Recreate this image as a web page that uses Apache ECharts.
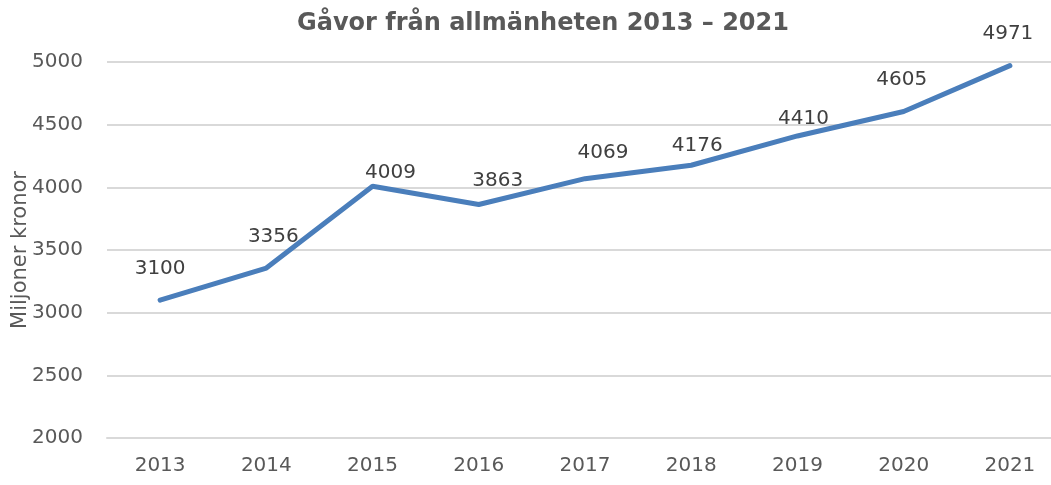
<!DOCTYPE html>
<html>
<head>
<meta charset="utf-8">
<script src="https://cdn.jsdelivr.net/npm/echarts@6/dist/echarts.min.js"></script>
<style>
  html, body { margin: 0; padding: 0; background: #fff; }
  #chart { width: 1051px; height: 485px; }
</style>
</head>
<body>
<div id="chart"></div>
<script>
const years = ['2013', '2014', '2015', '2016', '2017', '2018', '2019', '2020', '2021']
const gifts = [3100, 3356, 4009, 3863, 4069, 4176, 4410, 4605, 4971]

// where each value label sits relative to its point (moved by hand in the original)
const labelShift = [[0, -31], [7, -31], [18, -13], [19, -24], [18, -26], [6, -19], [6, -17], [-2, -32], [-2, -32]]

const chart = echarts.init(document.getElementById('chart'))
chart.setOption({
  animation: false,
  textStyle: { fontFamily: 'DejaVu Sans' },
  title: {
    text: 'Gåvor från allmänheten 2013 – 2021',
    left: 292,
    top: 7,
    textStyle: { fontSize: 24, fontWeight: 'bold', color: '#595959', fontFamily: 'DejaVu Sans' }
  },
  grid: { left: 107, top: 62, width: 956, height: 376, containLabel: false, outerBoundsMode: 'none' },
  xAxis: {
    type: 'category',
    data: years,
    boundaryGap: true,
    axisLine: { lineStyle: { color: '#d9d9d9', width: 2 } },
    axisTick: { show: false },
    axisLabel: { color: '#595959', fontSize: 20, margin: 18 }
  },
  yAxis: {
    type: 'value',
    min: 2000,
    max: 5000,
    interval: 500,
    name: 'Miljoner kronor',
    nameLocation: 'middle',
    nameGap: 76,
    nameMoveOverlap: false,
    nameTextStyle: { color: '#595959', fontSize: 21 },
    axisLine: { show: false },
    axisTick: { show: false },
    axisLabel: { color: '#595959', fontSize: 20, margin: 24, formatter: v => String(v) },
    splitLine: { lineStyle: { color: '#d9d9d9', width: 2 } }
  },
  series: [{
    type: 'line',
    data: gifts,
    symbol: 'circle',
    symbolSize: 2,
    showSymbol: true,
    itemStyle: { color: 'rgba(74,126,187,0)' },
    lineStyle: { color: '#4a7ebb', width: 5, cap: 'round' },
    label: {
      show: true,
      position: 'inside',
      color: '#404040',
      fontSize: 20
    },
    labelLayout: p => ({
      dx: labelShift[p.dataIndex][0],
      dy: labelShift[p.dataIndex][1],
      hideOverlap: false
    })
  }]
})
</script>
</body>
</html>
